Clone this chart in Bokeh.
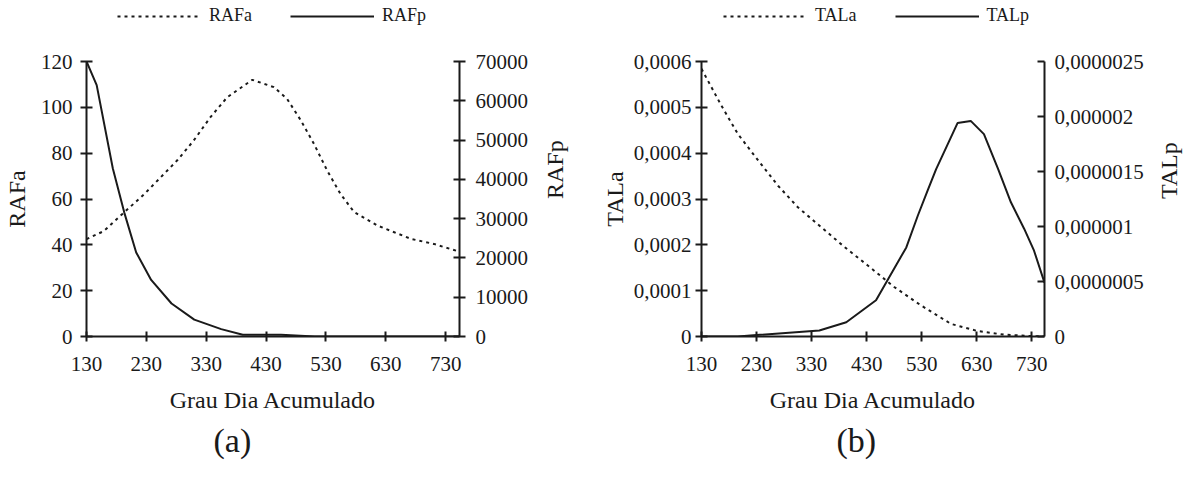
import math
from bokeh.plotting import figure
from bokeh.models import (Range1d, LinearAxis, FixedTicker, CustomJSTickFormatter,
                          Legend, LegendItem, Title)
from bokeh.layouts import row, column
from bokeh.embed import file_html
from bokeh.resources import INLINE

FONT = "Liberation Serif"
INK = "#1a1a1a"

# ---------------- data ----------------
gda_ticks = [130, 230, 330, 430, 530, 630, 730]

gda_rafa = [130, 159, 190, 226, 254, 282, 309, 337, 365, 407, 443, 465, 488, 510,
            532, 554, 577, 616, 644, 672, 710, 753]
rafa = [42.5, 46, 53.5, 62, 69.5, 77, 85.5, 95.7, 104.4, 112, 108.8, 103.7, 94.3, 84,
        72.4, 62.3, 54.3, 48.4, 45.5, 42.6, 40.4, 37]

gda_rafp = [130, 147, 174, 193, 213, 238, 272, 310, 355, 391, 455, 511, 600, 680, 753]
rafp = [70000, 64000, 42750, 31600, 21400, 14400, 8400, 4300, 1870, 450, 450, 0, 0, 0, 0]

gda_tala = [130, 166, 196, 233, 269, 305, 347, 390, 432, 480, 529, 583, 631, 680, 730, 753]
tala = [0.000584, 0.000504, 0.000442, 0.000384, 0.000329, 0.000282, 0.000239, 0.000195,
        0.000155, 0.000108, 0.0000676, 0.0000276, 0.000012, 0.000004, 0.000001, 0.0]

gda_talp = [130, 196, 236, 344, 393, 447, 502, 523, 541, 556, 595, 619, 643, 669,
            692, 716, 734, 753]
talp = [0.0, 0.0, 1.5e-8, 5.5e-8, 1.3e-7, 3.3e-7, 8.1e-7, 1.1e-6, 1.33e-6, 1.52e-6,
        1.94e-6, 1.96e-6, 1.84e-6, 1.52e-6, 1.22e-6, 9.8e-7, 7.8e-7, 4.9e-7]

rafa_ticks = [0, 20, 40, 60, 80, 100, 120]
rafp_ticks = [0, 10000, 20000, 30000, 40000, 50000, 60000, 70000]
tala_ticks = [0, 0.0001, 0.0002, 0.0003, 0.0004, 0.0005, 0.0006]
talp_ticks = [0, 0.0000005, 0.000001, 0.0000015, 0.000002, 0.0000025]

comma_fmt = CustomJSTickFormatter(code="""
var s = tick.toFixed(8);
s = s.replace(/\\.?0+$/, '');
return s.replace('.', ',');
""")

DOT = "3 4"
LW = 2


def style_axis(ax, tin, tout, label_standoff=10, tick_standoff=8):
    ax.axis_line_color = INK
    ax.axis_line_width = 2
    ax.major_tick_line_color = INK
    ax.major_tick_line_width = 2
    ax.major_tick_in = tin
    ax.major_tick_out = tout
    ax.minor_tick_line_color = None
    ax.major_label_text_font = FONT
    ax.major_label_text_font_size = "21px"
    ax.major_label_text_color = INK
    ax.major_label_standoff = tick_standoff
    ax.axis_label_text_font = FONT
    ax.axis_label_text_font_size = "24px"
    ax.axis_label_text_font_style = "normal"
    ax.axis_label_text_color = INK
    ax.axis_label_standoff = label_standoff


def make_legend_fig(width, left, right, xs1, ys1, xs2, ys2, names, legend_x):
    # the column layout aligns this frame with the chart frame below it
    lf = figure(width=width, height=45, x_range=Range1d(0, 1), y_range=Range1d(0, 1),
                output_backend="svg", toolbar_location=None,
                x_axis_location=None, y_axis_location=None, min_border=0,
                min_border_left=left, min_border_right=right)
    lf.outline_line_color = None
    lf.xgrid.visible = False
    lf.ygrid.visible = False
    # renderers only serve as legend glyph sources (data lie outside this view)
    r1 = lf.line(xs1, ys1, line_dash=DOT, line_width=LW, color=INK)
    r2 = lf.line(xs2, ys2, line_width=LW, color=INK)
    leg = Legend(items=[LegendItem(label=names[0], renderers=[r1]),
                        LegendItem(label=names[1], renderers=[r2])],
                 orientation="horizontal", location=(legend_x, 19),
                 glyph_width=84, glyph_height=20, label_height=20,
                 label_standoff=8, spacing=38, padding=0, margin=0,
                 border_line_color=None, background_fill_alpha=0,
                 label_text_font=FONT, label_text_font_size="18px",
                 label_text_color=INK)
    lf.add_layout(leg, "center")
    return lf


def make_panel(width, left, right, xs1, ys1, xs2, ys2, y1_range, y2_range,
               y1_ticks, y2_ticks, y1_label, y2_label, tag, tag_offset,
               fmt, left_tick_standoff, left_label_standoff,
               right_tick_in, right_tick_out, right_tick_standoff, right_label_standoff):
    p = figure(width=width, height=432, x_range=Range1d(130, 753),
               y_range=Range1d(*y1_range), output_backend="svg",
               toolbar_location=None, min_border_left=left, min_border_right=right,
               min_border_top=16, min_border_bottom=141)
    p.outline_line_color = None
    p.xgrid.visible = False
    p.ygrid.visible = False

    p.extra_y_ranges = {"sec": Range1d(*y2_range)}

    xa = p.xaxis[0]
    xa.ticker = FixedTicker(ticks=gda_ticks)
    xa.axis_label = "Grau Dia Acumulado"
    style_axis(xa, 5, 5, label_standoff=13, tick_standoff=15)

    ya = p.yaxis[0]
    ya.ticker = FixedTicker(ticks=y1_ticks)
    ya.axis_label = y1_label
    if fmt is not None:
        ya.formatter = fmt
    style_axis(ya, 6, 6, label_standoff=left_label_standoff,
               tick_standoff=left_tick_standoff)

    ra = LinearAxis(y_range_name="sec", ticker=FixedTicker(ticks=y2_ticks),
                    axis_label=y2_label)
    if fmt is not None:
        ra.formatter = fmt
    style_axis(ra, right_tick_in, right_tick_out, label_standoff=right_label_standoff,
               tick_standoff=right_tick_standoff)
    ra.axis_label_orientation = math.pi / 2
    p.add_layout(ra, "right")

    p.line(xs1, ys1, line_dash=DOT, line_width=LW, color=INK)
    p.line(xs2, ys2, y_range_name="sec", line_width=LW, color=INK)

    t = Title(text=tag, align="left", offset=tag_offset, text_font=FONT,
              text_font_size="34px", text_font_style="normal", text_color=INK,
              standoff=8)
    p.add_layout(t, "below")
    return p


l1 = make_legend_fig(598, 86, 139, gda_rafa, rafa, gda_rafp, rafp, ("RAFa", "RAFp"), 31)
p1 = make_panel(598, 86, 139, gda_rafa, rafa, gda_rafp, rafp, (0, 120), (0, 70000),
                rafa_ticks, rafp_ticks, "RAFa", "RAFp", "(a)", 127,
                None, 8, 8, 6, 6, 10, 24)
l2 = make_legend_fig(599, 102, 153, gda_tala, tala, gda_talp, talp, ("TALa", "TALp"), 22)
p2 = make_panel(599, 102, 153, gda_tala, tala, gda_talp, talp, (0, 0.0006),
                (0, 0.0000025), tala_ticks, talp_ticks, "TALa", "TALp",
                "(b)", 135, comma_fmt, 4, 3, 7, 0, 10, 22)

layout = row(column(l1, p1), column(l2, p2))
open("out.html", "w").write(file_html(layout, INLINE))
